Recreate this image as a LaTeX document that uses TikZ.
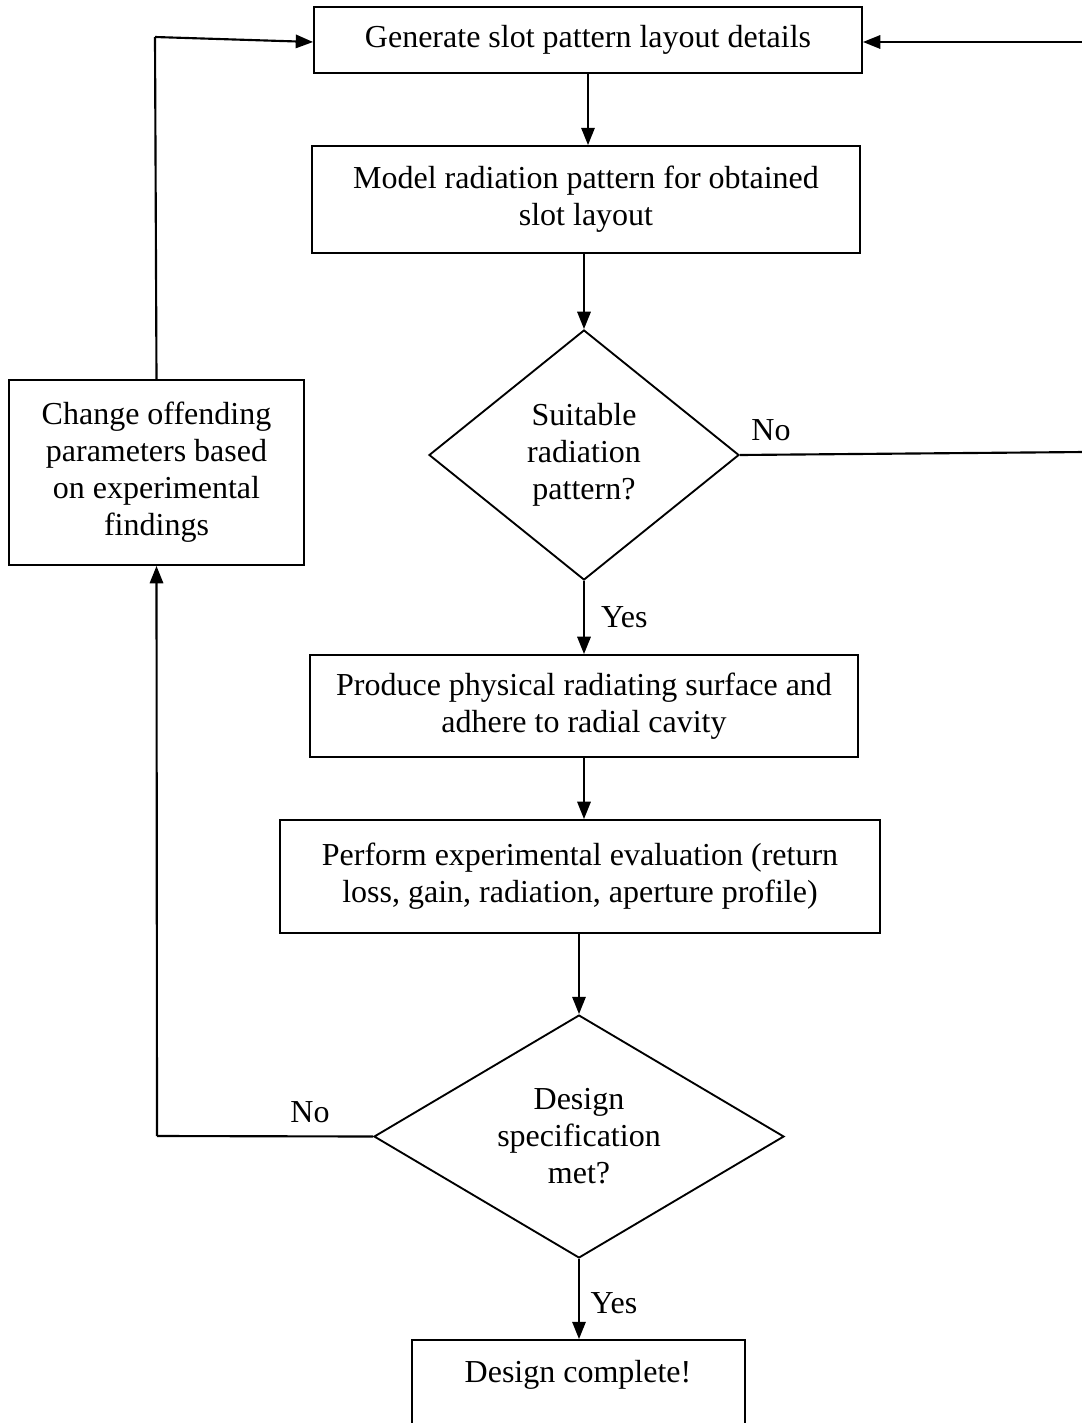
\documentclass[tikz,border=0pt]{standalone}
\usepackage{fontspec}
\setmainfont{Liberation Serif}
\usetikzlibrary{shapes.geometric,arrows.meta}
\begin{document}
\begin{tikzpicture}[x=0.375pt,y=-0.375pt,
  every node/.style={font=\fontsize{12pt}{13.9pt}\selectfont, align=center},
  box/.style={draw, line width=0.7pt, inner sep=0pt},
  dia/.style={draw, line width=0.7pt, diamond, inner sep=0pt},
  conn/.style={line width=0.8pt},
  arr/.style={conn, -{Triangle[length=6.5pt,width=5pt]}},
  lbl/.style={inner sep=0pt}]
\useasboundingbox (0,0) rectangle (1081,1423);
\node[box, minimum width=205.5pt, minimum height=24.75pt] (b1) at (588,40) {Generate slot pattern layout details};
\node[box, minimum width=205.5pt, minimum height=40.1pt] (b2) at (586,199.5) {Model radiation pattern for obtained\\slot layout};
\node[dia, minimum width=116.25pt, minimum height=93.75pt, aspect=1.24] (d1) at (584,455) {Suitable\\radiation\\pattern?};
\node[box, minimum width=205.5pt, minimum height=38.25pt] (b3) at (584,706) {Produce physical radiating surface and\\adhere to radial cavity};
\node[box, minimum width=225pt, minimum height=42.4pt] (b4) at (580,876.5) {Perform experimental evaluation (return\\loss, gain, radiation, aperture profile)};
\node[dia, minimum width=153.75pt, minimum height=91.1pt, aspect=1.69] (d2) at (579,1136.5) {Design\\specification\\met?};
\node[box, minimum width=110.6pt, minimum height=69.4pt] (b5) at (156.5,472.5) {Change offending\\parameters based\\on experimental\\findings};
\node[box, minimum width=124.9pt, minimum height=37.5pt] (b6) at (578.5,1390) {};
\node[lbl] (b6t) at (578,1375) {Design complete!};
\coordinate (tl) at (155,37);
\coordinate (r1) at (1085,452);
\coordinate (r2) at (1085,42);
\coordinate (bl) at (157,1136);
\draw[arr] (b1.south -| 588,0) -- (b2.north -| 588,0);
\draw[arr] (b2.south -| d1.north) -- (d1.north);
\draw[arr] (d1.south) -- (b3.north -| d1.south) node[lbl, pos=0.5, right=6pt] (y1) {Yes};
\draw[arr] (b3.south -| d1.south) -- (b4.north -| d1.south);
\draw[arr] (b4.south -| d2.north) -- (d2.north);
\draw[arr] (d2.south) -- (b6.north -| d2.south) node[lbl, pos=0.55, right=4pt] (y2) {Yes};
\draw[conn] (d1.east) -- (r1);
\draw[arr] (r2) -- (b1.east |- r2);
\node[lbl] (n1) at (771,430) {No};
\draw[conn] (d2.west) -- (bl);
\draw[arr] (bl) -- (b5.south);
\node[lbl] (n2) at (310,1112) {No};
\draw[conn] (b5.north) -- (tl);
\draw[arr] (tl) -- (b1.west |- 0,42);
\end{tikzpicture}
\end{document}
